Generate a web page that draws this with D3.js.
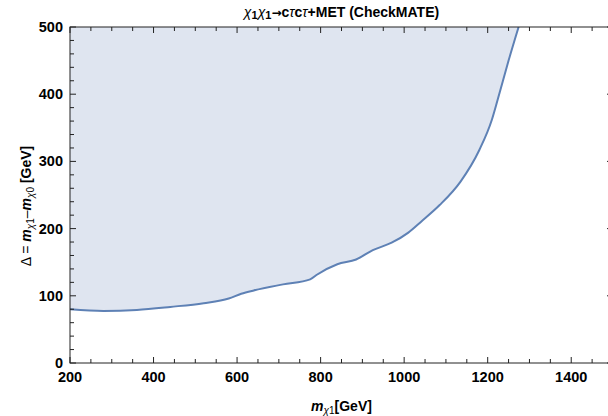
<!DOCTYPE html>
<html>
<head>
<meta charset="utf-8">
<script src="https://cdn.jsdelivr.net/npm/d3@7"></script>
<style>
body{margin:0;background:#fff}
text{font-family:"Liberation Sans",Arial,sans-serif}
</style>
</head>
<body>
<svg id="chart"></svg>
<script>
// exclusion contour, m_chi1 [GeV] vs Delta [GeV]
var massX = [200,280,360,440,520,580,610,640,710,775,790,840,885,925,970,1010,1040,1085,1135,1180,1210,1224,1250,1274]
var deltaY = [80,77.5,79,83.5,89,96,103,108,117,124.5,131,147,154,168,179,194,210,235,270,317,362,392,450,500]
var xTicks = [200,400,600,800,1000,1200,1400]
var yTicks = [0,100,200,300,400,500]

var width = 608, height = 416
var margin = {left:70, top:27, right:-5, bottom:53}
var svg = d3.select("#chart").attr("width",width).attr("height",height)

var x = d3.scaleLinear().domain([200,1500]).range([margin.left, width-margin.right])
var y = d3.scaleLinear().domain([0,500]).range([height-margin.bottom, margin.top])

var pts = massX.map((m,i)=>({m:m,d:deltaY[i]}))

svg.append("clipPath").attr("id","clip")
   .append("rect")
   .attr("x",x(200)).attr("y",y(500))
   .attr("width",x(1500)-x(200)).attr("height",y(0)-y(500))

var plot = svg.append("g").attr("clip-path","url(#clip)")

var area = d3.area()
  .x(d=>x(d.m))
  .y0(y(500))
  .y1(d=>y(d.d))
  .curve(d3.curveMonotoneX)

plot.append("path")
    .datum(pts)
    .attr("fill","#dfe5f0")
    .attr("d",area)

var line = d3.line()
  .x(d=>x(d.m))
  .y(d=>y(d.d))
  .curve(d3.curveMonotoneX)

plot.append("path")
    .datum(pts)
    .attr("fill","none")
    .attr("stroke","#5e81b5")
    .attr("stroke-width",2)
    .attr("d",line)

// frame + ticks
var frame = svg.append("g").attr("stroke","#222").attr("stroke-width",1)
frame.append("rect")
     .attr("x",x(200)).attr("y",y(500))
     .attr("width",x(1500)-x(200)).attr("height",y(0)-y(500))
     .attr("fill","none")

var xMinor = d3.range(200,1501,50)
var yMinor = d3.range(0,501,20)
xMinor.forEach(v=>{
  var len = v%200===0 ? 6 : 4
  frame.append("line").attr("x1",x(v)).attr("x2",x(v)).attr("y1",y(0)).attr("y2",y(0)-len)
  frame.append("line").attr("x1",x(v)).attr("x2",x(v)).attr("y1",y(500)).attr("y2",y(500)+len)
})
yMinor.forEach(v=>{
  var len = v%100===0 ? 6 : 4
  frame.append("line").attr("y1",y(v)).attr("y2",y(v)).attr("x1",x(200)).attr("x2",x(200)+len)
  frame.append("line").attr("y1",y(v)).attr("y2",y(v)).attr("x1",x(1500)).attr("x2",x(1500)-len)
})

svg.selectAll(".xl").data(xTicks).enter()
   .append("text")
   .attr("x",d=>x(d)).attr("y",382)
   .attr("text-anchor","middle")
   .attr("font-size","14.5px").attr("font-weight","bold")
   .text(d=>d)

svg.selectAll(".yl").data(yTicks).enter()
   .append("text")
   .attr("x",63).attr("y",d=>y(d)+5)
   .attr("text-anchor","end")
   .attr("font-size","14.5px").attr("font-weight","bold")
   .text(d=>d)

// title
var title = svg.append("text")
   .attr("x",(x(200)+x(1500))/2).attr("y",17)
   .attr("text-anchor","middle")
   .attr("font-size","14px")
title.append("tspan").attr("font-style","italic").text("χ")
title.append("tspan").attr("font-size","11px").attr("font-weight","bold").attr("dy",2).text("1")
title.append("tspan").attr("font-style","italic").attr("dy",-2).text("χ")
title.append("tspan").attr("font-size","11px").attr("font-weight","bold").attr("dy",2).text("1")
title.append("tspan").attr("font-family","DejaVu Sans").attr("font-size","12px").attr("font-weight","bold").attr("dy",-2).text("→")
title.append("tspan").attr("font-weight","bold").text("c")
title.append("tspan").attr("font-style","italic").text("τ")
title.append("tspan").attr("font-weight","bold").text("c")
title.append("tspan").attr("font-style","italic").text("τ")
title.append("tspan").attr("font-weight","bold").text("+MET (CheckMATE)")

// x label
var xl = svg.append("text")
   .attr("x",(x(200)+x(1500))/2).attr("y",411)
   .attr("text-anchor","middle")
   .attr("font-size","14px")
xl.append("tspan").attr("font-weight","bold").attr("font-style","italic").text("m")
xl.append("tspan").attr("font-size","10px").attr("font-style","italic").attr("dy",3).text("χ")
xl.append("tspan").attr("font-size","10px").text("1")
xl.append("tspan").attr("font-weight","bold").attr("dy",-3).text("[GeV]")

// y label
var yl = svg.append("text")
   .attr("transform","translate(31,206) rotate(-90)")
   .attr("text-anchor","middle")
   .attr("font-size","14px")
yl.append("tspan").text("Δ = ")
yl.append("tspan").attr("font-weight","bold").attr("font-style","italic").text("m")
yl.append("tspan").attr("font-size","10px").attr("font-style","italic").attr("dy",3).text("χ")
yl.append("tspan").attr("font-size","10px").text("1")
yl.append("tspan").attr("dy",-3).text("–")
yl.append("tspan").attr("font-weight","bold").attr("font-style","italic").text("m")
yl.append("tspan").attr("font-size","10px").attr("font-style","italic").attr("dy",3).text("χ")
yl.append("tspan").attr("font-size","10px").text("0")
yl.append("tspan").attr("font-weight","bold").attr("dy",-3).text(" [GeV]")
</script>
</body>
</html>
